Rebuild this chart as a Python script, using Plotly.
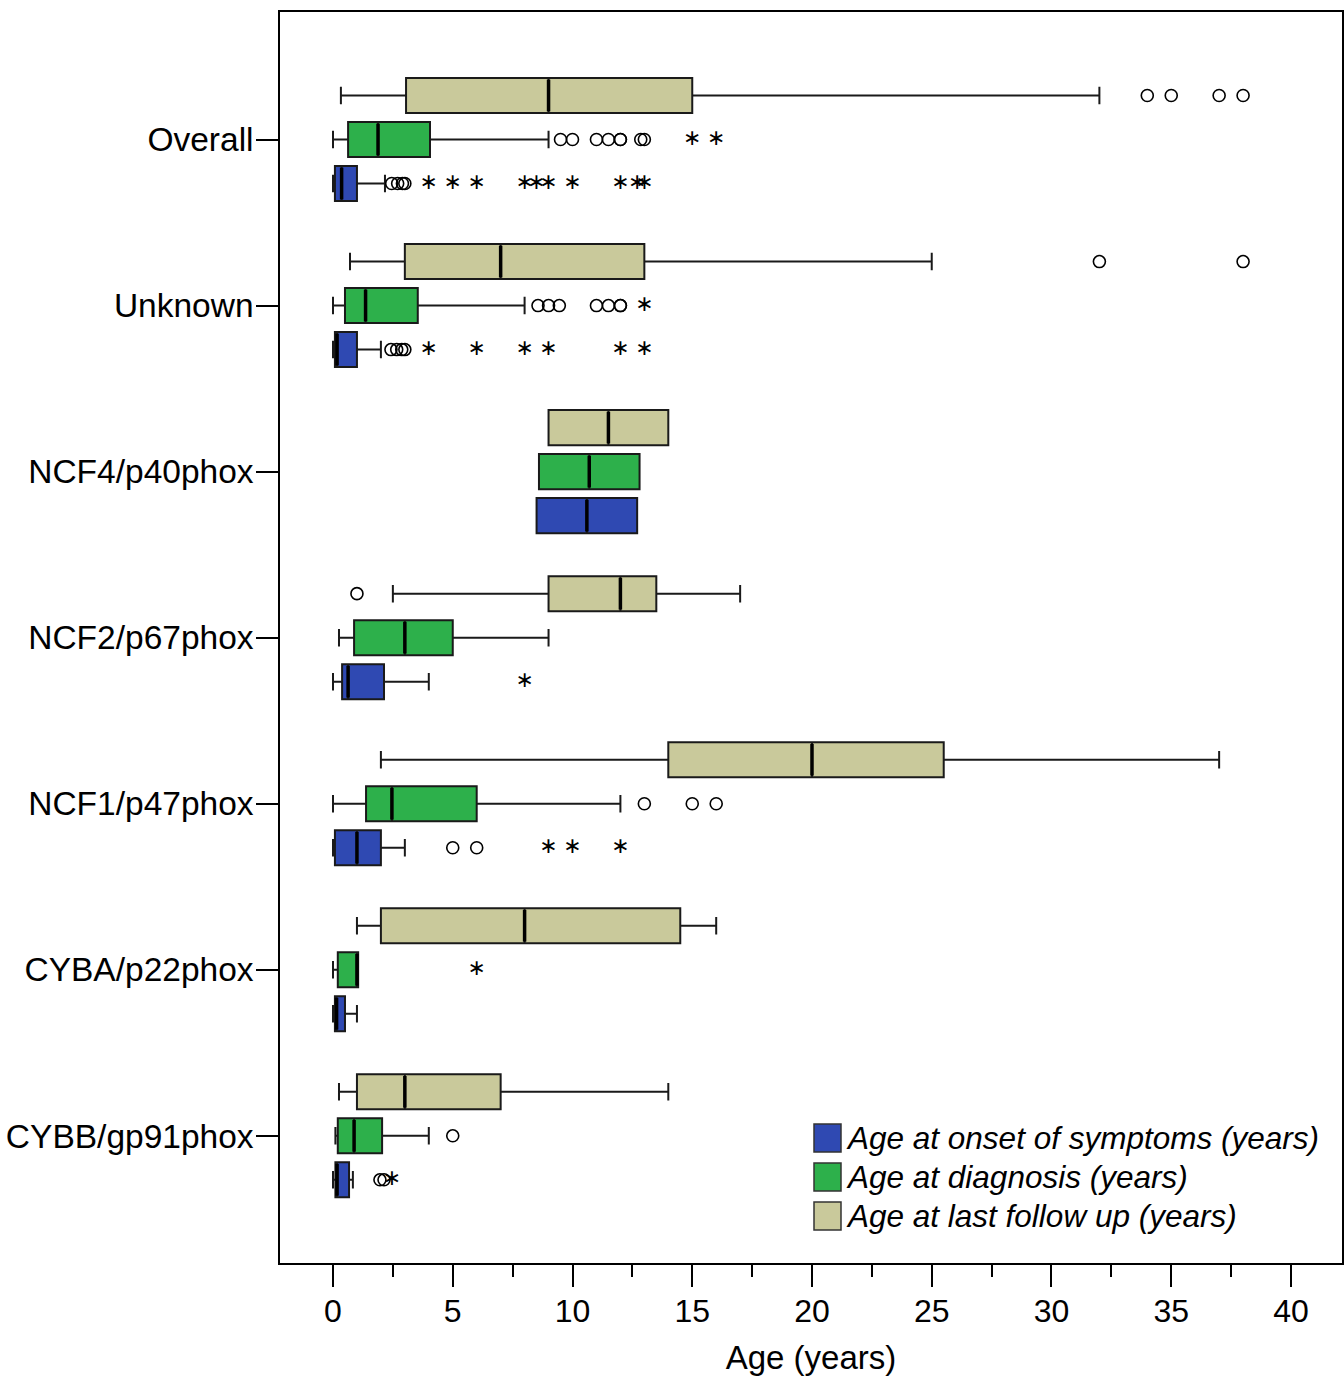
import plotly.graph_objects as go

# ---------------- data ----------------
categories = ["CYBB/gp91phox", "CYBA/p22phox", "NCF1/p47phox", "NCF2/p67phox",
              "NCF4/p40phox", "Unknown", "Overall"]

series_names = ["Age at onset of symptoms (years)",
                "Age at diagnosis (years)",
                "Age at last follow up (years)"]

# Age at onset of symptoms (blue)
onset_low = [0.0, 0.0, 0.0, 0.0, 8.5, 0.0, 0.0]
onset_q1 = [0.1, 0.08, 0.08, 0.38, 8.5, 0.08, 0.08]
onset_med = [0.17, 0.15, 1.0, 0.63, 10.6, 0.17, 0.36]
onset_q3 = [0.67, 0.5, 2.0, 2.13, 12.7, 1.0, 1.0]
onset_high = [0.83, 1.0, 3.0, 4.0, 12.7, 2.0, 2.17]
onset_out = [[1.96, 2.13], [], [5, 6], [], [], [2.42, 2.66, 2.87, 3.0], [2.45, 2.7, 2.9, 3.0]]
onset_ext = [[2.46], [], [9, 10, 12], [8], [], [4, 6, 8, 9, 12, 13],
             [4, 5, 6, 8, 8.5, 9, 10, 12, 12.7, 13]]

# Age at diagnosis (green)
diag_low = [0.1, 0.0, 0.0, 0.25, 8.6, 0.0, 0.0]
diag_q1 = [0.2, 0.2, 1.38, 0.88, 8.6, 0.5, 0.63]
diag_med = [0.88, 1.0, 2.46, 3.0, 10.7, 1.36, 1.88]
diag_q3 = [2.05, 1.05, 6.0, 5.0, 12.8, 3.54, 4.05]
diag_high = [4.0, 1.05, 12.0, 9.0, 12.8, 8.0, 9.0]
diag_out = [[5], [], [13, 15, 16], [], [], [8.56, 9.0, 9.45, 11.0, 11.5, 12.0, 12.0],
            [9.5, 10, 11, 11.5, 12, 12, 12.85, 13]]
diag_ext = [[], [6], [], [], [], [13], [15, 16]]

# Age at last follow up (tan)
fu_low = [0.25, 1.0, 2.0, 2.5, 9.0, 0.71, 0.33]
fu_q1 = [1.0, 2.0, 14.0, 9.0, 9.0, 3.0, 3.05]
fu_med = [3.0, 8.0, 20.0, 12.0, 11.5, 7.0, 9.0]
fu_q3 = [7.0, 14.5, 25.5, 13.5, 14.0, 13.0, 15.0]
fu_high = [14.0, 16.0, 37.0, 17.0, 14.0, 25.0, 32.0]
fu_out = [[], [], [], [1.0], [], [32, 38], [34, 35, 37, 38]]
fu_ext = [[], [], [], [], [], [], []]

x_ticks = [0, 5, 10, 15, 20, 25, 30, 35, 40]

# ---------------- styling ----------------
colors = ["#2F49B2", "#2DB04B", "#C9C99B"]
offsets = [-0.265, 0.0, 0.265]
box_w = 0.211
edge = "#1a1a1a"
FONT = "Liberation Sans, Arial, sans-serif"

series = [
    (onset_low, onset_q1, onset_med, onset_q3, onset_high, onset_out, onset_ext),
    (diag_low, diag_q1, diag_med, diag_q3, diag_high, diag_out, diag_ext),
    (fu_low, fu_q1, fu_med, fu_q3, fu_high, fu_out, fu_ext),
]

fig = go.Figure()
for (low, q1, med, q3, high, out, ext), col, off, name in zip(series, colors, offsets, series_names):
    pos = [i + off for i in range(len(categories))]
    fig.add_trace(go.Box(
        y=pos, q1=q1, median=med, q3=q3, lowerfence=low, upperfence=high,
        orientation="h", width=box_w, whiskerwidth=0.5, boxpoints=False,
        fillcolor=col, line=dict(color=edge, width=2), name=name, showlegend=False,
    ))
    # thicker median lines
    mx, my = [], []
    for p, m in zip(pos, med):
        mx += [m, m, None]
        my += [p - box_w / 2 + 0.01, p + box_w / 2 - 0.01, None]
    fig.add_trace(go.Scatter(x=mx, y=my, mode="lines", line=dict(color="black", width=3.5),
                             showlegend=False, hoverinfo="skip"))
    # outliers (circles)
    ox, oy = [], []
    for p, vals in zip(pos, out):
        ox += vals
        oy += [p] * len(vals)
    fig.add_trace(go.Scatter(x=ox, y=oy, mode="markers",
                             marker=dict(symbol="circle-open", size=12, color="black",
                                         line=dict(width=1.6)),
                             showlegend=False))
    # extremes (asterisks)
    ex, ey = [], []
    for p, vals in zip(pos, ext):
        ex += vals
        ey += [p] * len(vals)
    fig.add_trace(go.Scatter(x=ex, y=ey, mode="text", text=["\u2217"] * len(ex),
                             textposition="middle center",
                             textfont=dict(family="DejaVu Sans", size=22, color="black"),
                             showlegend=False))

# ---------------- layout ----------------
L, R, T, B = 280, 1342, 12, 1263
W, H = 1344, 1378


def px_x(px):
    return (px - L) / (R - L)


def px_y(py):
    return (B - py) / (B - T)


shapes = []
annotations = []
leg_rows = [1138, 1177, 1216]
for col, name, cy in zip(colors, series_names, leg_rows):
    shapes.append(dict(type="rect", xref="paper", yref="paper",
                       x0=px_x(814), x1=px_x(841), y0=px_y(cy - 14), y1=px_y(cy + 14),
                       fillcolor=col, line=dict(color="#333333", width=1.5)))
    annotations.append(dict(xref="paper", yref="paper", x=px_x(844), y=px_y(cy),
                            xanchor="left", yanchor="middle", showarrow=False,
                            text="<i>" + name + "</i>",
                            font=dict(family=FONT, size=31.5, color="black")))

fig.update_layout(
    width=W, height=H,
    margin=dict(l=L, r=W - R, t=T, b=H - B, pad=0),
    paper_bgcolor="white", plot_bgcolor="white",
    font=dict(family=FONT, size=32, color="black"),
    shapes=shapes, annotations=annotations,
    showlegend=False,
)
fig.update_xaxes(
    range=[-2.213, 42.13], tickvals=x_ticks, ticktext=[str(t) for t in x_ticks],
    ticks="outside", ticklen=22, tickwidth=1.5, tickcolor="black",
    minor=dict(dtick=2.5, tick0=0, ticks="outside", ticklen=12, tickwidth=1.5, tickcolor="black"),
    showline=True, linecolor="black", linewidth=1.5, mirror=True,
    showgrid=False, zeroline=False, automargin=False, ticklabelstandoff=-3,
    tickfont=dict(size=32), title=dict(text="Age (years)", font=dict(size=33), standoff=18),
)
fig.update_yaxes(
    range=[-0.766, 6.768], tickvals=list(range(len(categories))), ticktext=categories,
    ticks="outside", ticklen=22, tickwidth=1.5, tickcolor="black",
    showline=True, linecolor="black", linewidth=1.5, mirror=True, ticklabelstandoff=-4,
    showgrid=False, zeroline=False, automargin=False, tickfont=dict(size=33.5),
)

fig.write_html("out.html", config={"displayModeBar": False},
               post_script="document.body.style.margin='0';")
